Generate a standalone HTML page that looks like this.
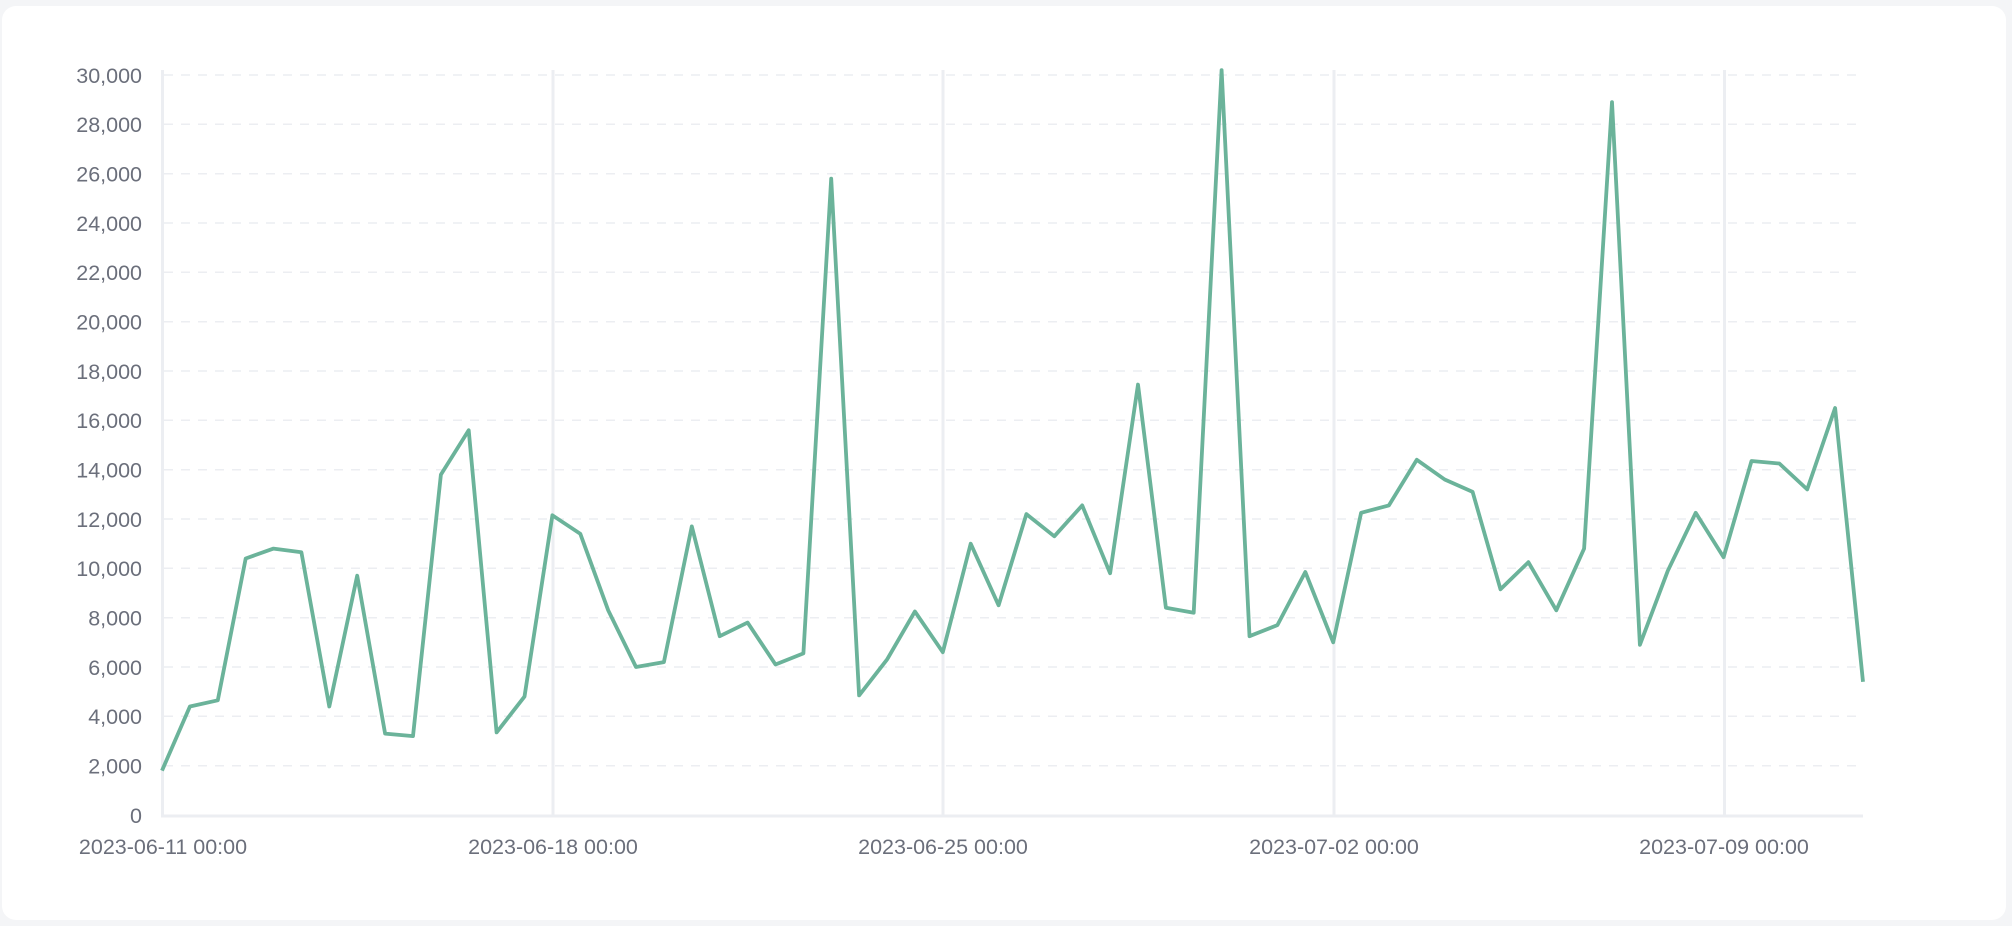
<!DOCTYPE html>
<html><head><meta charset="utf-8"><style>
html,body{margin:0;padding:0;background:#f4f5f7;width:2012px;height:926px;overflow:hidden}
.card{position:absolute;left:2px;top:6px;width:2004px;height:914px;background:#fff;border-radius:14px}
svg{position:absolute;left:0;top:0}
text{font-family:"Liberation Sans",sans-serif;font-size:21.5px;fill:#6b6f7b}
</style></head><body>
<div class="card"></div>
<svg width="2012" height="926" viewBox="0 0 2012 926">
<g stroke="#eceef2" stroke-width="1.5" stroke-dasharray="9,8">
<line x1="164" x2="1863" y1="75" y2="75"/><line x1="164" x2="1863" y1="124.3" y2="124.3"/>
<line x1="164" x2="1863" y1="173.7" y2="173.7"/><line x1="164" x2="1863" y1="223" y2="223"/>
<line x1="164" x2="1863" y1="272.3" y2="272.3"/><line x1="164" x2="1863" y1="321.7" y2="321.7"/>
<line x1="164" x2="1863" y1="371" y2="371"/><line x1="164" x2="1863" y1="420.3" y2="420.3"/>
<line x1="164" x2="1863" y1="469.7" y2="469.7"/><line x1="164" x2="1863" y1="519" y2="519"/>
<line x1="164" x2="1863" y1="568.3" y2="568.3"/><line x1="164" x2="1863" y1="617.7" y2="617.7"/>
<line x1="164" x2="1863" y1="667" y2="667"/><line x1="164" x2="1863" y1="716.3" y2="716.3"/>
<line x1="164" x2="1863" y1="765.7" y2="765.7"/>
</g>
<g stroke="#eceef2" stroke-width="3">
<line x1="162.5" x2="162.5" y1="70" y2="816"/>
<line x1="553" x2="553" y1="70" y2="816"/>
<line x1="943" x2="943" y1="70" y2="816"/>
<line x1="1334" x2="1334" y1="70" y2="816"/>
<line x1="1724.5" x2="1724.5" y1="70" y2="816"/>
<line x1="161" x2="1863" y1="816" y2="816"/>
</g>
<g text-anchor="end">
<text x="142" y="83">30,000</text><text x="142" y="132">28,000</text><text x="142" y="181.5">26,000</text>
<text x="142" y="231">24,000</text><text x="142" y="280">22,000</text><text x="142" y="329.5">20,000</text>
<text x="142" y="379">18,000</text><text x="142" y="428">16,000</text><text x="142" y="477.5">14,000</text>
<text x="142" y="527">12,000</text><text x="142" y="576">10,000</text><text x="142" y="625.5">8,000</text>
<text x="142" y="675">6,000</text><text x="142" y="724">4,000</text><text x="142" y="773.5">2,000</text>
<text x="142" y="823">0</text>
</g>
<g text-anchor="middle">
<text x="163" y="854">2023-06-11 00:00</text><text x="553" y="854">2023-06-18 00:00</text>
<text x="943" y="854">2023-06-25 00:00</text><text x="1334" y="854">2023-07-02 00:00</text>
<text x="1724" y="854">2023-07-09 00:00</text>
</g>
<polyline fill="none" stroke="#6bb39a" stroke-width="3.8" stroke-linejoin="round" points="162,770.6 189.9,706.5 217.8,700.3 245.7,558.5 273.5,548.6 301.4,552.3 329.3,706.5 357.2,575.7 385.1,733.6 413,736.1 440.9,474.6 468.7,430.2 496.6,732.4 524.5,696.6 552.4,515.3 580.3,533.8 608.2,610.3 636,667 663.9,662.1 691.8,526.4 719.7,636.2 747.6,622.6 775.5,664.5 803.4,653.4 831.2,178.6 859.1,695.4 887,659.6 914.9,611.5 942.8,652.2 970.7,543.7 998.6,605.3 1026.4,514.1 1054.3,536.3 1082.2,505.4 1110.1,573.3 1138,384.6 1165.9,607.8 1193.7,612.7 1221.6,70.1 1249.5,636.2 1277.4,625.1 1305.3,572 1333.2,642.3 1361.1,512.8 1388.9,505.4 1416.8,459.8 1444.7,479.5 1472.6,491.9 1500.5,589.3 1528.4,562.2 1556.3,610.3 1584.1,548.6 1612,102.1 1639.9,644.8 1667.8,570.8 1695.7,512.8 1723.6,557.2 1751.5,461 1779.3,463.5 1807.2,489.4 1835.1,408 1863,681.8"/>
</svg>
</body></html>
